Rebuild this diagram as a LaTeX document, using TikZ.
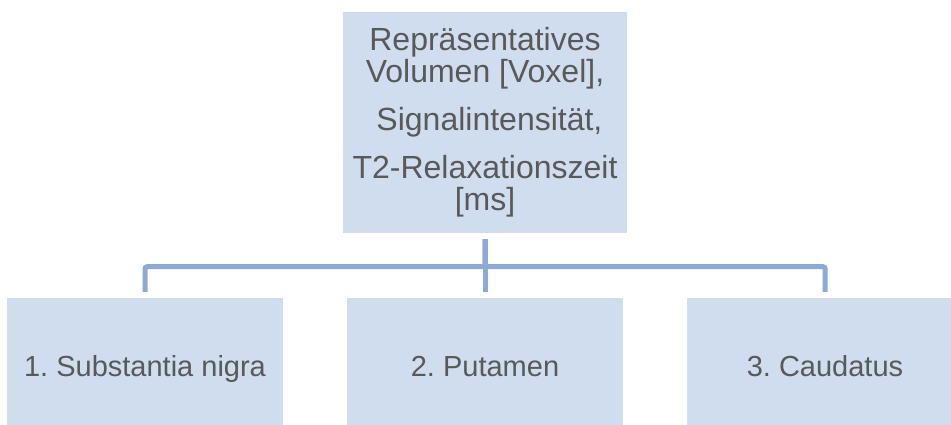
\documentclass[tikz,border=0pt]{standalone}
\usepackage{fontspec}
\setmainfont{Liberation Sans}
\frenchspacing
\definecolor{boxfill}{RGB}{207,221,238}
\definecolor{linkblue}{RGB}{140,170,213}
\definecolor{textgray}{RGB}{89,89,89}

\begin{document}
\begin{tikzpicture}[x=1pt, y=-1pt,
  box/.style={rectangle, fill=boxfill, text=textgray, inner sep=0pt, align=center},
  topbox/.style={box, minimum width=284pt, minimum height=221pt, font=\fontsize{32}{32}\selectfont},
  leaf/.style={box, minimum width=276pt, minimum height=134pt, text height=22pt, text depth=0pt, font=\fontsize{29}{32}\selectfont},
  link/.style={draw=linkblue, line width=5pt, rounded corners=2pt, shorten <=6pt, shorten >=6pt}]
\useasboundingbox (0,0) rectangle (951,425);
\node[topbox] (param) at (485,122.5) {Repräsentatives\\Volumen [Voxel],\\[16pt]\hspace*{.278em}Signalintensität,\\[16pt]T2-Relaxationszeit\\{[ms]}};
\node[leaf] (sn) at (145,365) {1. Substantia nigra};
\node[leaf] (put) at (485,365) {2. Putamen};
\node[leaf] (caud) at (825,365) {3. Caudatus};
% connectors from the top box to each region
\foreach \n in {sn, put, caud}
  \draw[link] (param.south) -- ++(0,33.5) -| (\n.north);
\end{tikzpicture}
\end{document}
